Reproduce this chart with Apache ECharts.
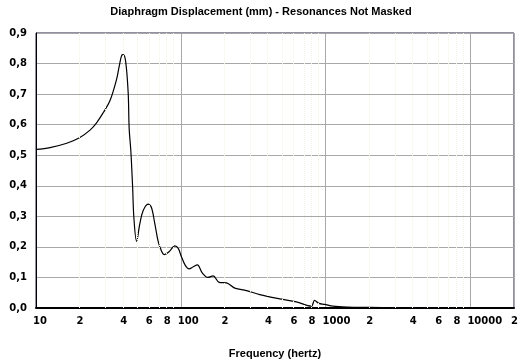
<!DOCTYPE html>
<html>
<head>
<meta charset="utf-8">
<script src="https://cdn.jsdelivr.net/npm/echarts@6/dist/echarts.min.js"></script>
<style>html,body{margin:0;padding:0;background:#fff}#c{width:522px;height:364px}</style>
</head>
<body>
<div id="c"></div>
<script>
// Frequency (Hz) and diaphragm displacement (mm)
var freqHz = [10, 12.5, 16.3, 20.1, 23.6, 26.2, 29.1, 32.4, 36.0, 37.5, 39.0, 40.0, 41.6, 43.3, 44.0, 45.2, 46.5, 47.4, 49.5, 52.1, 54.9, 59.5, 62.7, 66.2, 69.5, 71.7, 76.7, 83.0, 90.9, 96.0, 101, 107, 114, 122, 130, 141, 154, 167, 184, 207, 236, 284, 351, 482, 628, 797, 839, 899, 984, 1123, 1418, 2000, 3000, 5000, 20000];
var displacement = [0.519, 0.525, 0.539, 0.558, 0.582, 0.606, 0.639, 0.678, 0.748, 0.790, 0.826, 0.829, 0.807, 0.705, 0.587, 0.513, 0.394, 0.297, 0.218, 0.275, 0.318, 0.340, 0.329, 0.275, 0.221, 0.200, 0.175, 0.184, 0.203, 0.195, 0.168, 0.141, 0.128, 0.135, 0.141, 0.114, 0.100, 0.105, 0.084, 0.082, 0.065, 0.057, 0.044, 0.030, 0.020, 0.006, 0.025, 0.015, 0.012, 0.006, 0.003, 0.002, 0.001, 0, 0];
var xTickHz = [10, 20, 40, 60, 80, 100, 200, 400, 600, 800, 1000, 2000, 4000, 6000, 8000, 10000, 20000];
var minorGridHz = [20, 30, 40, 50, 60, 70, 80, 90, 200, 300, 400, 500, 600, 700, 800, 900, 2000, 3000, 4000, 5000, 6000, 7000, 8000, 9000];
var yTicks = [0, 0.1, 0.2, 0.3, 0.4, 0.5, 0.6, 0.7, 0.8, 0.9];
var titleText = 'Diaphragm Displacement (mm) - Resonances Not Masked';
var xName = 'Frequency (hertz)';

var lg = function (v) { return Math.log10(v); };
var seriesData = freqHz.map(function (f, i) { return [lg(f), displacement[i]]; });

function tickLabel(v) {
  var f = Math.round(Math.pow(10, v));
  var d = Math.pow(10, Math.floor(Math.log10(f) + 1e-9));
  var m = Math.round(f / d);
  if (m === 1) return String(f);
  return String(m);
}

var chart = echarts.init(document.getElementById('c'));
chart.setOption({
  animation: false,
  backgroundColor: '#ffffff',
  title: {
    text: titleText,
    left: 'center',
    top: 1,
    textStyle: { fontFamily: 'Liberation Sans', fontWeight: 'bold', fontSize: 11, color: '#000' }
  },
  grid: { left: 36, right: 8, top: 33, bottom: 52, show: true, borderColor: '#222244', borderWidth: 1 },
  xAxis: {
    type: 'value',
    min: 1,
    max: lg(20000),
    interval: 1,
    name: xName,
    nameLocation: 'middle',
    nameGap: 40,
    nameTextStyle: { fontFamily: 'Liberation Sans', fontWeight: 'bold', fontSize: 11, color: '#000' },
    axisLine: { show: true, onZero: false, lineStyle: { color: '#000', width: 2 } },
    axisTick: { show: false },
    splitLine: { show: true, lineStyle: { color: '#a8a8a8', width: 1 } },
    axisLabel: {
      customValues: xTickHz.map(lg),
      formatter: tickLabel,
      align: 'left',
      padding: [0, 0, 0, -3],
      margin: 8,
      fontFamily: 'DejaVu Sans',
      fontWeight: 'bold',
      fontSize: 10,
      color: '#000'
    }
  },
  yAxis: {
    type: 'value',
    min: 0,
    max: 0.9,
    interval: 0.1,
    axisLine: { show: true, lineStyle: { color: '#000', width: 1 } },
    axisTick: { show: false },
    splitLine: { show: true, lineStyle: { color: '#a8a8a8', width: 1 } },
    axisLabel: {
      customValues: yTicks,
      formatter: function (v) { return v.toFixed(1).replace('.', ','); },
      margin: 9,
      fontFamily: 'DejaVu Sans',
      fontWeight: 'bold',
      fontSize: 10,
      color: '#000'
    }
  },
  series: [{
    type: 'line',
    data: seriesData,
    showSymbol: false,
    smooth: 0.35,
    lineStyle: { color: '#000', width: 1.2 },
    markLine: {
      silent: true,
      symbol: 'none',
      label: { show: false },
      lineStyle: { color: '#f3f2e4', type: 'dotted', width: 1 },
      data: minorGridHz.map(function (f) { return { xAxis: lg(f) }; })
    },
    z: 3
  }]
});
</script>
</body>
</html>
